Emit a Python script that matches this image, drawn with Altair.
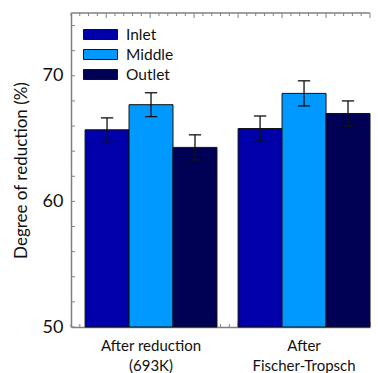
import altair as alt
import pandas as pd

# Degree of reduction for each catalyst bed section
groups = ["After reduction\n(693K)", "After\nFischer-Tropsch"]
series = ["Inlet", "Middle", "Outlet"]
inlet = [65.7, 65.8]
middle = [67.7, 68.6]
outlet = [64.3, 67.0]
inlet_err = [0.95, 1.0]
middle_err = [0.95, 1.0]
outlet_err = [1.0, 1.0]
colors = ["#0000AA", "#0099FF", "#000055"]

y_ticks_major = [50, 60, 70]
y_ticks_minor = list(range(50, 76, 2))

W, H = 299, 314
X_DOMAIN = [0.2, 7.0]
GROUP_START = 0.52
GROUP_STEP = 3.48
AXIS_GRAY = "#808080"
FONT = "Lato"

rows = []
for gi, g in enumerate(groups):
    for si, (s, vals, errs) in enumerate(
        [("Inlet", inlet, inlet_err), ("Middle", middle, middle_err), ("Outlet", outlet, outlet_err)]
    ):
        rows.append({"group": g, "gi": gi, "series": s, "si": si,
                     "value": vals[gi], "err": errs[gi]})
df = pd.DataFrame(rows)

xscale = alt.Scale(domain=X_DOMAIN, nice=False, zero=False)
yscale = alt.Scale(domain=[50, 75], nice=False, zero=False)

base = alt.Chart(df).transform_calculate(
    x0=f"{GROUP_START} + datum.gi * {GROUP_STEP} + datum.si",
    x1=f"{GROUP_START} + datum.gi * {GROUP_STEP} + datum.si + 1",
    xc=f"{GROUP_START} + datum.gi * {GROUP_STEP} + datum.si + 0.5",
    lo="datum.value - datum.err",
    hi="datum.value + datum.err",
)

# tick marks along top and bottom edges (every 0.2 units, longer at integers)
xt = [round(X_DOMAIN[0] + 0.2 * i, 2) for i in range(int(round((X_DOMAIN[1] - X_DOMAIN[0]) / 0.2)) + 1)]
xt_df = pd.DataFrame({"x": xt})
xt_df["major"] = xt_df["x"].apply(lambda v: abs(v - round(v)) < 1e-6)

top_minor = alt.Chart(xt_df[~xt_df.major]).mark_rule(color=AXIS_GRAY, strokeWidth=1).encode(
    x=alt.X("x:Q", scale=xscale), y=alt.value(0), y2=alt.value(3))
top_major = alt.Chart(xt_df[xt_df.major]).mark_rule(color=AXIS_GRAY, strokeWidth=1).encode(
    x=alt.X("x:Q", scale=xscale), y=alt.value(0), y2=alt.value(5))
bot_minor = alt.Chart(xt_df[~xt_df.major]).mark_rule(color=AXIS_GRAY, strokeWidth=1).encode(
    x=alt.X("x:Q", scale=xscale), y=alt.value(H), y2=alt.value(H - 3))
bot_major = alt.Chart(xt_df[xt_df.major]).mark_rule(color=AXIS_GRAY, strokeWidth=1).encode(
    x=alt.X("x:Q", scale=xscale), y=alt.value(H), y2=alt.value(H - 5))
top_line = alt.Chart(pd.DataFrame({"a": [0]})).mark_rule(color=AXIS_GRAY, strokeWidth=1.5).encode(
    x=alt.value(0), x2=alt.value(W), y=alt.value(0))

# inward ticks on the left axis
yt_df = pd.DataFrame({"y": y_ticks_minor})
y_ticks = alt.Chart(yt_df).mark_rule(color=AXIS_GRAY, strokeWidth=1).encode(
    y=alt.Y("y:Q", scale=yscale), x=alt.value(0), x2=alt.value(4))

bars = base.mark_bar(stroke="#111111", strokeWidth=1).encode(
    x=alt.X("x0:Q", scale=xscale,
            axis=alt.Axis(title=None, labels=False, ticks=False, grid=False,
                          domainColor=AXIS_GRAY, domainWidth=1.5)),
    x2="x1:Q",
    y=alt.Y("value:Q", scale=yscale,
            axis=alt.Axis(title="Degree of reduction (%)", values=y_ticks_major,
                          ticks=False, grid=False, domainColor=AXIS_GRAY, domainWidth=1.5,
                          labelFont=FONT, labelFontSize=18, labelColor="#111111",
                          labelPadding=8, titleFont=FONT, titleFontSize=17,
                          titleFontWeight="normal", titleColor="#111111", titlePadding=12)),
    y2=alt.Y2(datum=50),
    color=alt.Color("series:N", scale=alt.Scale(domain=series, range=colors),
                    legend=alt.Legend(title=None, orient="none", legendX=19, legendY=11,
                                      symbolType="M-1.7,-0.5H1.7V0.5H-1.7Z", symbolSize=400,
                                      symbolStrokeColor="#111111", symbolStrokeWidth=1,
                                      symbolOpacity=1,
                                      labelFont=FONT, labelFontSize=15.5, labelColor="#111111",
                                      labelOffset=15, rowPadding=1)),
)

err_v = base.mark_rule(color="#111111", strokeWidth=1.3).encode(
    x=alt.X("xc:Q", scale=xscale), y=alt.Y("lo:Q", scale=yscale), y2="hi:Q")
cap_hi = base.transform_calculate(ca="datum.xc - 0.14", cb="datum.xc + 0.14").mark_rule(
    color="#111111", strokeWidth=1.3).encode(
    x=alt.X("ca:Q", scale=xscale), x2="cb:Q", y=alt.Y("hi:Q", scale=yscale))
cap_lo = base.transform_calculate(ca="datum.xc - 0.14", cb="datum.xc + 0.14").mark_rule(
    color="#111111", strokeWidth=1.3).encode(
    x=alt.X("ca:Q", scale=xscale), x2="cb:Q", y=alt.Y("lo:Q", scale=yscale))

# category labels under each group
lab_df = pd.DataFrame({"group": groups, "gi": list(range(len(groups)))})
labels = alt.Chart(lab_df).transform_calculate(
    xc=f"{GROUP_START} + datum.gi * {GROUP_STEP} + 1.5"
).mark_text(font=FONT, fontSize=15, color="#111111", baseline="top",
            lineBreak="\n", lineHeight=20).encode(
    x=alt.X("xc:Q", scale=xscale), y=alt.value(H + 12), text="group:N")

chart = alt.layer(
    top_minor, top_major, bot_minor, bot_major, y_ticks,
    bars, err_v, cap_hi, cap_lo, top_line, labels
).properties(
    width=W, height=H,
    autosize=alt.AutoSizeParams(type="none"),
    padding={"left": 71, "top": 13, "right": 8, "bottom": 46},
    background="white",
).configure_view(stroke=None)

chart.save("out.html", embed_options={"renderer": "svg", "actions": False})
